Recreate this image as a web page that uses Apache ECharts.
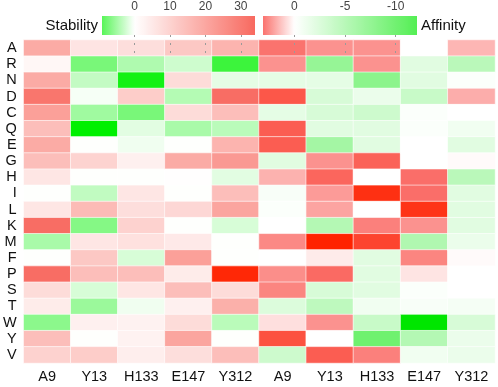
<!DOCTYPE html>
<html><head><meta charset="utf-8">
<script src="https://cdn.jsdelivr.net/npm/echarts@6/dist/echarts.min.js"></script>
<style>html,body{margin:0;padding:0;background:#fff}#c{width:498px;height:387px}</style>
</head><body><div id="c"></div>
<script>
const residues = ['A','R','N','D','C','Q','E','G','H','I','L','K','M','F','P','S','T','W','Y','V'];
const sites = ['A9','Y13','H133','E147','Y312'];

const stabilityA9   = [19, 2, 19, 31, 21.6, 14.8, 19, 14.8, 5.7, 0, 5.7, 33, -4.7, 0, 33, 8, 4.5, -6.3, 14.8, 10.2];
const stabilityY13  = [6, -7.4, -3.3, -0.5, -5.2, -14, 0, 10, 0, -3.4, 15.5, -6.7, 5.7, 12.5, 14.8, -2.2, -5.5, 3.4, 0, 11.4];
const stabilityH133 = [7.5, -4.4, -12.9, 11.4, -7.4, -1.6, -0.8, 3.4, 0, 5.7, 7.5, 10.2, 6.8, -2.2, 14.8, 5.7, -0.8, 3, 3, 3.9];
const stabilityE147 = [12.5, -2.7, 8, -4.1, 8, -4.7, 0, 19, 0.2, 0, 9, 0, 5, 21.6, 4.5, 14.8, 3.4, 8, 20.4, 7.5];
const stabilityY312 = [17, -10.7, -1.4, 33, 14.8, -3.8, 17, 23, -1.6, 14.8, 20.4, -2.2, 0, 0, 49, 8, 18, -3.8, 0, 14.8];

const affinityA9   = [3.1, 2.4, -1.8, 3.75, -1.8, 3.6, 3.6, -2.1, 1.7, -0.5, -0.3, 0, 2.6, 0, 2.5, 2.7, -2.5, 0.7, 3.9, -3.5];
const affinityY13  = [2.4, -7.4, -1.8, -2.8, -2.8, -2.1, -6.4, 2.4, 3.4, 2.2, 2.0, -5.3, 5.0, 0.45, 3.3, -2.8, -4.6, 2.4, 0, 3.6];
const affinityH133 = [2.4, 2.4, -8.1, -1.4, -3.5, -2.1, -2.1, 3.5, 0, 4.7, 0, 2.8, 4.2, -2.1, -2.1, -2.1, -1, -3.9, -10.2, 2.8];
const affinityE147 = [0, -2.1, -2.1, -3.9, -0.3, -0.3, 0, 0, 3.2, 3.2, 4.6, 2.4, -5.6, 2.7, 0.6, -0.3, -0.5, -18, -5.3, -1];
const affinityY312 = [1.6, -4.9, -0.3, 1.8, 0, -1, -2.1, 0.1, -4.9, -2.1, -2.1, -2.1, -1.4, 0.1, 0, 0, -0.7, -2.8, -1.4, -1.4];

const stabilityBar = [-9.2, 34];
const affinityBar = [-12.1, 3.1];
const stabilityTicks = [0, 10, 20, 30];
const affinityTicks = [0, -5, -10];

// colour scales (value -> rgb), white at 0
const stabilityScale = [[-14, [0, 240, 0]], [0, [255, 255, 255]], [34, [248, 105, 95]], [50, [255, 35, 0]]];
const affinityScale  = [[-18, [0, 230, 0]], [0, [255, 255, 255]], [3.2, [250, 110, 105]], [5, [255, 35, 0]]];

function rgb(c) { return 'rgb(' + c.map(Math.round).join(',') + ')'; }
function colorAt(scale, v) {
  if (v <= scale[0][0]) return rgb(scale[0][1]);
  for (let i = 1; i < scale.length; i++) {
    if (v <= scale[i][0]) {
      const v0 = scale[i - 1][0], c0 = scale[i - 1][1], v1 = scale[i][0], c1 = scale[i][1];
      const t = (v - v0) / (v1 - v0);
      return rgb(c0.map((c, k) => c + (c1[k] - c) * t));
    }
  }
  return rgb(scale[scale.length - 1][1]);
}
function palette(scale) {
  const lo = scale[0][0], hi = scale[scale.length - 1][0], n = 230;
  const out = [];
  for (let i = 0; i <= n; i++) out.push(colorAt(scale, lo + (hi - lo) * i / n));
  return out;
}
function cells(cols) {
  const d = [];
  cols.forEach((col, xi) => col.forEach((v, yi) => d.push([xi, yi, v])));
  return d;
}
function barRender(scale, range, inverse) {
  return function (params, api) {
    const a = api.coord([range[0], 1]);
    const b = api.coord([range[1], 0]);
    const x = Math.min(a[0], b[0]), w = Math.abs(b[0] - a[0]);
    const y = Math.min(a[1], b[1]), h = Math.abs(b[1] - a[1]);
    const lv = inverse ? range[1] : range[0], rv = inverse ? range[0] : range[1];
    const stops = [];
    for (let i = 0; i <= 60; i++) {
      const t = i / 60;
      stops.push({ offset: t, color: colorAt(scale, lv + (rv - lv) * t) });
    }
    return { type: 'rect', shape: { x: x, y: y, width: w, height: h },
      style: { fill: new echarts.graphic.LinearGradient(0, 0, 1, 0, stops) } };
  };
}

const FONT = '"Liberation Sans", Arial, sans-serif';
const chart = echarts.init(document.getElementById('c'), null, { renderer: 'canvas' });

function catX(gi) {
  return { type: 'category', gridIndex: gi, data: sites, position: 'bottom',
    axisLine: { show: false }, axisTick: { show: false }, splitLine: { show: false },
    axisLabel: { interval: 0, fontSize: 14.5, color: '#111', fontFamily: FONT, margin: 6 } };
}
function catY(gi, showLabels) {
  return { type: 'category', gridIndex: gi, data: residues, inverse: true,
    axisLine: { show: false }, axisTick: { show: false }, splitLine: { show: false },
    axisLabel: { show: showLabels, interval: 0, fontSize: 14.5, color: '#111', fontFamily: FONT, margin: 7 } };
}
function barX(gi, range, ticks, inverse) {
  return { type: 'value', gridIndex: gi, min: range[0], max: range[1], inverse: inverse,
    position: 'top', z: 5,
    axisLine: { show: false }, splitLine: { show: false },
    axisLabel: { customValues: ticks, fontSize: 12, color: '#444', fontFamily: FONT, margin: 3 },
    axisTick: { customValues: ticks, inside: true, length: 19,
      lineStyle: { color: '#9a9a9a', width: 1, type: [2, 6] } } };
}
function barY(gi) { return { type: 'value', gridIndex: gi, min: 0, max: 1, show: false }; }

const heatStyle = { borderColor: '#fff', borderWidth: 0.6 };

chart.setOption({
  animation: false,
  backgroundColor: '#fff',
  grid: [
    { left: 22, top: 40, width: 237, height: 323 },
    { left: 259, top: 40, width: 236, height: 323 },
    { left: 102, top: 16, width: 153, height: 19 },
    { left: 263, top: 16, width: 154, height: 19 }
  ],
  xAxis: [catX(0), catX(1), barX(2, stabilityBar, stabilityTicks, false), barX(3, affinityBar, affinityTicks, true)],
  yAxis: [catY(0, true), catY(1, false), barY(2), barY(3)],
  visualMap: [
    { type: 'continuous', show: false, seriesIndex: 0, dimension: 2,
      min: stabilityScale[0][0], max: stabilityScale[stabilityScale.length - 1][0], inRange: { color: palette(stabilityScale) } },
    { type: 'continuous', show: false, seriesIndex: 1, dimension: 2,
      min: affinityScale[0][0], max: affinityScale[affinityScale.length - 1][0], inRange: { color: palette(affinityScale) } }
  ],
  series: [
    { type: 'heatmap', xAxisIndex: 0, yAxisIndex: 0, itemStyle: heatStyle, emphasis: { disabled: true },
      data: cells([stabilityA9, stabilityY13, stabilityH133, stabilityE147, stabilityY312]) },
    { type: 'heatmap', xAxisIndex: 1, yAxisIndex: 1, itemStyle: heatStyle, emphasis: { disabled: true },
      data: cells([affinityA9, affinityY13, affinityH133, affinityE147, affinityY312]) },
    { type: 'custom', xAxisIndex: 2, yAxisIndex: 2, data: [[stabilityBar[0], 0]], silent: true,
      renderItem: barRender(stabilityScale, stabilityBar, false) },
    { type: 'custom', xAxisIndex: 3, yAxisIndex: 3, data: [[affinityBar[0], 0]], silent: true,
      renderItem: barRender(affinityScale, affinityBar, true) }
  ],
  graphic: [
    { type: 'text', x: 98, y: 26, style: { text: 'Stability', fontSize: 15, fontFamily: FONT, fill: '#111',
      align: 'right', verticalAlign: 'middle' } },
    { type: 'text', x: 421, y: 26, style: { text: 'Affinity', fontSize: 15, fontFamily: FONT, fill: '#111',
      align: 'left', verticalAlign: 'middle' } }
  ]
});
</script>
</body></html>
